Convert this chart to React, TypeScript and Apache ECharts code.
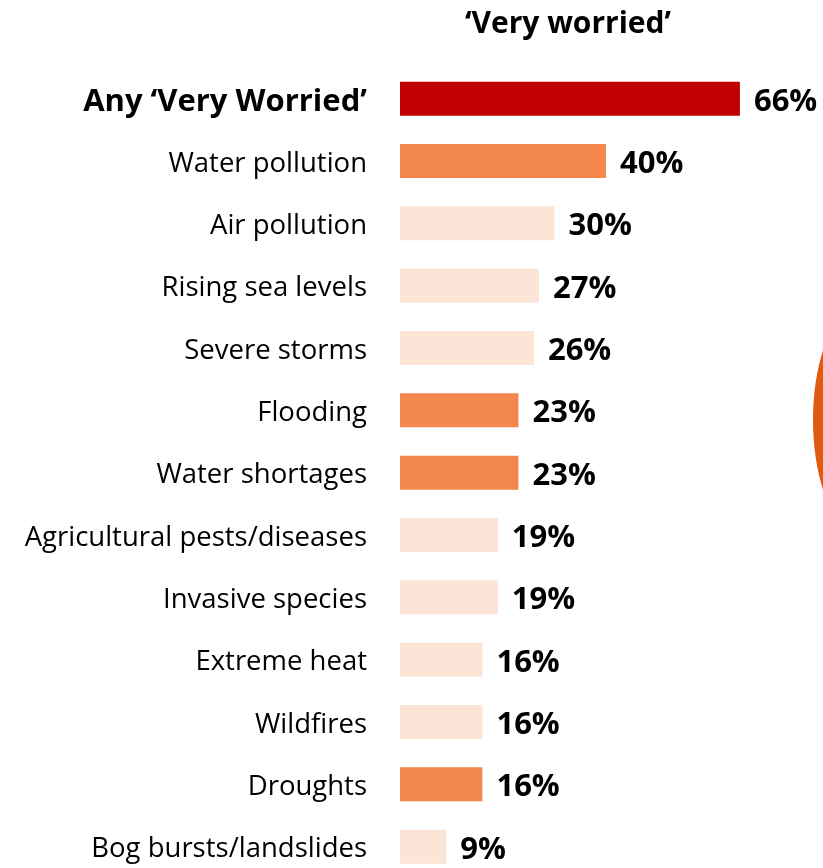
import React, { useEffect, useRef } from "react";
import * as echarts from "echarts";

const categories = [
  "Any ‘Very Worried’",
  "Water pollution",
  "Air pollution",
  "Rising sea levels",
  "Severe storms",
  "Flooding",
  "Water shortages",
  "Agricultural pests/diseases",
  "Invasive species",
  "Extreme heat",
  "Wildfires",
  "Droughts",
  "Bog bursts/landslides",
];
const values = [66, 40, 30, 27, 26, 23, 23, 19, 19, 16, 16, 16, 9];
// colour group per bar: 0 = total, 1 = highlighted, 2 = other
const groups = [0, 1, 2, 2, 2, 1, 1, 2, 2, 2, 2, 1, 2];
const palette = ["#C00000", "#F4874B", "#FCE4D6"];
const title = "‘Very worried’";

export default function App() {
  const ref = useRef<HTMLDivElement>(null);
  useEffect(() => {
    if (!ref.current) return;
    const chart = echarts.init(ref.current, null, { renderer: "svg" });
    const font = "'Open Sans', 'Noto Sans', sans-serif";
    chart.setOption({
      animation: false,
      title: {
        text: title,
        left: 563,
        top: 1,
        textAlign: "center",
        textStyle: { fontFamily: font, fontWeight: "bold", fontSize: 30, color: "#000" },
      },
      grid: { left: 400, top: 98.7, width: 412, height: 748, containLabel: false },
      xAxis: {
        type: "value",
        min: 0,
        max: 80,
        show: false,
      },
      yAxis: {
        type: "category",
        inverse: true,
        boundaryGap: false,
        data: categories,
        axisLine: { show: false },
        axisTick: { show: false },
        splitLine: { show: false },
        axisLabel: {
          margin: 33,
          fontFamily: font,
          fontSize: 27.5,
          lineHeight: 26,
          color: "#000",
          formatter: (v: string, i: number) => (i === 0 ? `{b|${v}}` : v),
          rich: {
            b: { fontFamily: font, fontSize: 31, lineHeight: 28, fontWeight: "bold", color: "#000" },
          },
        },
      },
      series: [
        {
          type: "bar",
          barWidth: 34,
          clip: false,
          data: values.map((v, i) => ({ value: v, itemStyle: { color: palette[groups[i]] } })),
          label: {
            show: true,
            position: "right",
            distance: 14,
            formatter: "{c}%",
            fontFamily: font,
            fontWeight: "bold",
            fontSize: 31,
            lineHeight: 26,
            color: "#000",
          },
        },
      ],
      graphic: [
        {
          type: "ellipse",
          shape: { cx: 872, cy: 420, rx: 59, ry: 125 },
          style: { fill: "#E05A10" },
        },
      ],
    });
    return () => chart.dispose();
  }, []);
  return (
    <div
      ref={ref}
      style={{ position: "fixed", left: 0, top: 0, width: 823, height: 868 }}
    />
  );
}
